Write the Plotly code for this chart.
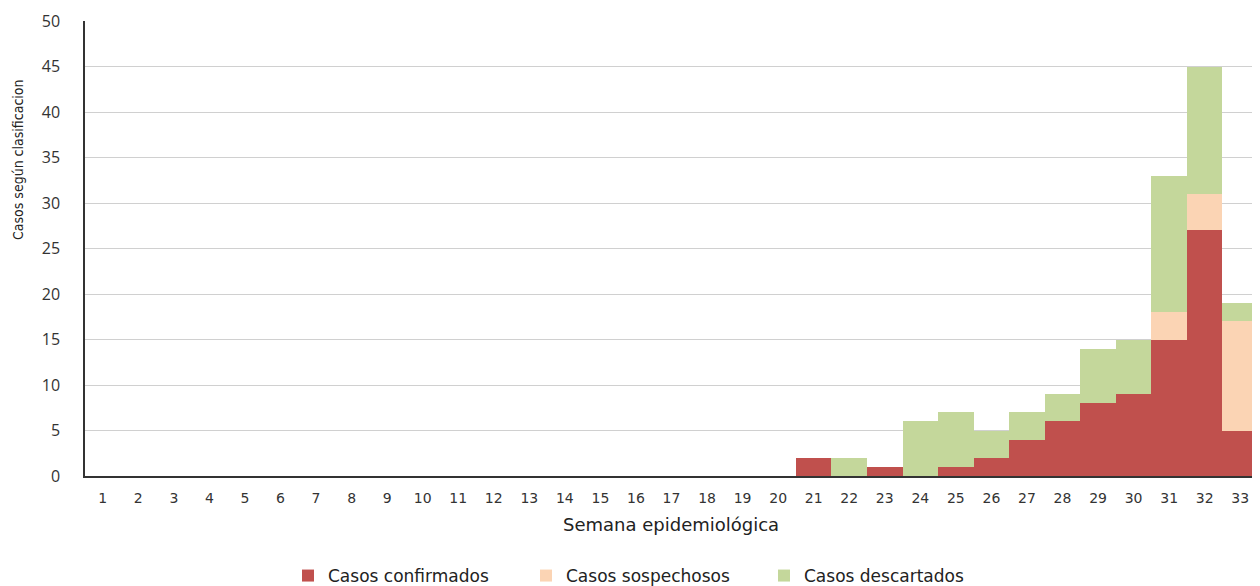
import plotly.graph_objects as go

weeks = list(range(1, 34))
confirmados = [0]*20 + [2, 0, 1, 0, 1, 2, 4, 6, 8, 9, 15, 27, 5]
sospechosos = [0]*20 + [0, 0, 0, 0, 0, 0, 0, 0, 0, 0, 3, 4, 12]
descartados = [0]*20 + [0, 2, 0, 6, 6, 3, 3, 3, 6, 6, 15, 14, 2]

fig = go.Figure()
fig.add_bar(x=weeks, y=confirmados, name="Casos confirmados", marker=dict(color="#C0504D", line=dict(width=0)))
fig.add_bar(x=weeks, y=sospechosos, name="Casos sospechosos", marker=dict(color="#FBD4B4", line=dict(width=0)))
fig.add_bar(x=weeks, y=descartados, name="Casos descartados", marker=dict(color="#C4D79B", line=dict(width=0)))

# page body has an 8px margin; figure coordinates below are offset accordingly
OFF = 8
W, H = 1260 - OFF, 586 - OFF
left, top, right = 85 - OFF, 21 - OFF, 2
bottom = H - (476 - OFF)
ph = H - top - bottom
pw = W - left - right


def px(xs):
    return (xs - OFF - left) / pw


def py(ys):
    return (H - bottom - (ys - OFF)) / ph


fig.update_layout(
    barmode="stack", bargap=0,
    width=W, height=H,
    margin=dict(l=left, r=right, t=top, b=bottom, autoexpand=False),
    plot_bgcolor="white", paper_bgcolor="white",
    font=dict(family="DejaVu Sans", color="#404040"),
    showlegend=True,
    legend=dict(orientation="h", x=px(645), xanchor="center", y=py(576), yanchor="middle",
                font=dict(family="DejaVu Sans", size=17, color="#222"), traceorder="normal",
                itemwidth=30, tracegroupgap=0, entrywidth=193, entrywidthmode="pixels"),
    xaxis=dict(range=[0.5, 33.5], tickmode="array", tickvals=weeks, ticktext=[str(w) for w in weeks],
               showline=True, linecolor="#333", linewidth=1.5, ticks="", showgrid=False, automargin=False,
               tickfont=dict(size=14, color="#333"), zeroline=False, ticklabelstandoff=8),
    yaxis=dict(range=[0, 50], dtick=5, showline=True, linecolor="#333", linewidth=1.5, automargin=False,
               showgrid=True, gridcolor="#D0D0D0", gridwidth=1, ticks="", zeroline=False,
               tickfont=dict(family="Open Sans", size=16, color="#333"), ticklabelstandoff=20),
    annotations=[
        dict(text="Semana epidemiológica", xref="paper", yref="paper", x=px(671),
             y=py(524), xanchor="center", yanchor="middle", showarrow=False,
             font=dict(family="DejaVu Sans", size=18, color="#222")),
        dict(text="Casos según clasificacion", xref="paper", yref="paper", x=px(18),
             y=py(160), xanchor="center", yanchor="middle", showarrow=False, textangle=-90,
             font=dict(family="Liberation Sans Narrow, DejaVu Sans Condensed, Open Sans", size=14, color="#222")),
    ],
)
fig.write_html("out.html")
